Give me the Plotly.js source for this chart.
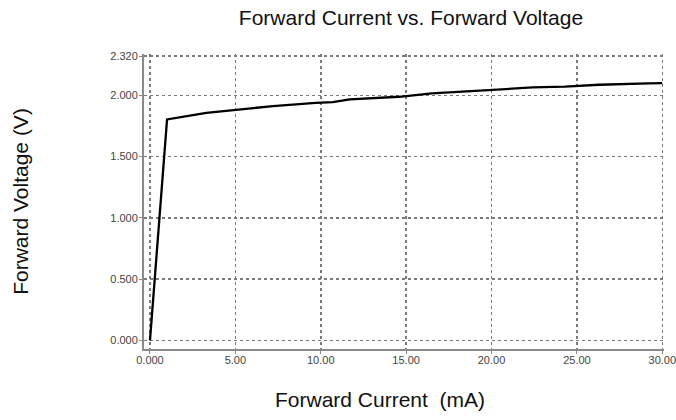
<!DOCTYPE html>
<html>
<head>
<meta charset="utf-8">
<script src="https://cdn.plot.ly/plotly-3.0.1.min.js"></script>
<style>html,body{margin:0;padding:0;background:#fff;}#chart{width:676px;height:420px;}</style>
</head>
<body>
<div id="chart"></div>
<script>
const currentMA = [0, 1.0, 3.3, 4.9, 7.2, 9.7, 10.7, 11.7, 14.6, 16.5, 19.5, 22.4, 24.3, 26.3, 29.2, 30.0];
const voltageV  = [0, 1.803, 1.857, 1.879, 1.912, 1.939, 1.944, 1.966, 1.988, 2.015, 2.042, 2.064, 2.070, 2.086, 2.097, 2.100];

const xTickVals = [0, 5, 10, 15, 20, 25, 30];
const xTickText = ["0.000", "5.00", "10.00", "15.00", "20.00", "25.00", "30.00"];
const yTickVals = [0, 0.5, 1.0, 1.5, 2.0, 2.32];
const yTickText = ["0.000", "0.500", "1.000", "1.500", "2.000", "2.320"];

const titleText = 'Forward Current vs. Forward Voltage';
const xTitleText = 'Forward Current  (mA)';
const yTitleText = 'Forward Voltage (V)';

const FONT = '"Liberation Sans", Arial, sans-serif';

const trace = {
  x: currentMA, y: voltageV, type: 'scatter', mode: 'lines',
  line: {color: '#000', width: 2.3}, hoverinfo: 'skip'
};

const axisCommon = {
  showline: true, linecolor: '#8a8a8a', linewidth: 2,
  ticks: 'outside', ticklen: 3, tickcolor: '#8a8a8a', tickwidth: 1,
  showgrid: true, gridcolor: '#7a7a7a', gridwidth: 1.5, griddash: '3px,3px',
  zeroline: false, tickmode: 'array', ticklabeloverflow: 'allow',
  tickfont: {family: FONT, size: 11, color: '#444'}
};

const layout = {
  width: 676, height: 420,
  margin: {l: 144, r: 12, t: 54, b: 71},
  paper_bgcolor: '#fff', plot_bgcolor: '#fff',
  showlegend: false,
  title: {text: titleText, x: 0.608, xref: 'container', xanchor: 'center', y: 0.957, yref: 'container', yanchor: 'middle',
          font: {family: FONT, size: 21, color: '#111'}},
  xaxis: Object.assign({}, axisCommon, {
    range: [-0.35, 30.1], tickvals: xTickVals, ticktext: xTickText, ticklabelstandoff: -3
  }),
  yaxis: Object.assign({}, axisCommon, {
    range: [-0.07, 2.337], tickvals: yTickVals, ticktext: yTickText, ticklabelstandoff: -1,
    title: {text: yTitleText, standoff: 76, font: {family: FONT, size: 21, color: '#111'}}
  }),
  annotations: [{
    text: xTitleText, xref: 'paper', yref: 'paper', x: (380 - 144) / 520, y: -0.172,
    xanchor: 'center', yanchor: 'middle', showarrow: false,
    font: {family: FONT, size: 21, color: '#111'}
  }]
};

Plotly.newPlot('chart', [trace], layout, {displayModeBar: false, staticPlot: true});
</script>
</body>
</html>
